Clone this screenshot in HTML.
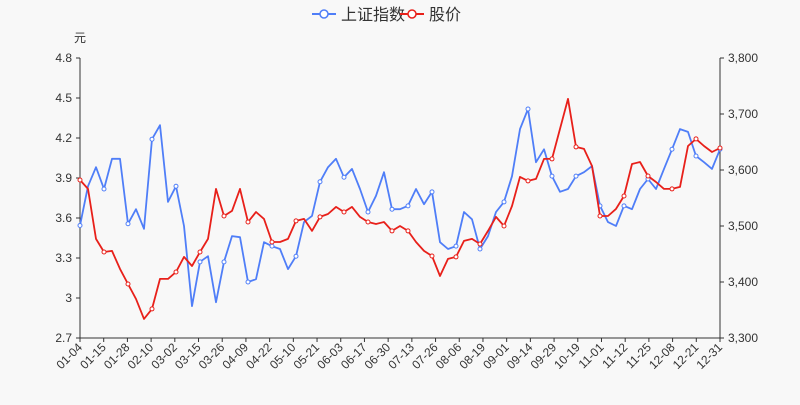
<!DOCTYPE html>
<html><head><meta charset="utf-8"><style>
body{margin:0;background:#f8f8f8;}
svg{font-family:"Liberation Sans","Noto Sans CJK SC",sans-serif;}
</style></head><body>
<svg id="c" width="800" height="400" xmlns="http://www.w3.org/2000/svg">
<rect width="800" height="400" fill="#f8f8f8"/>
<g id="legend">
 <g>
  <line x1="312" y1="14" x2="336" y2="14" stroke="#4f7ef8" stroke-width="2"/>
  <circle cx="324" cy="14" r="4" fill="#fff" stroke="#4f7ef8" stroke-width="1.5"/>
  <text x="341" y="20" font-size="16" fill="#333">上证指数</text>
 </g>
 <g>
  <line x1="400" y1="14" x2="424" y2="14" stroke="#e8201a" stroke-width="2"/>
  <circle cx="412" cy="14" r="4" fill="#fff" stroke="#e8201a" stroke-width="1.5"/>
  <text x="429" y="20" font-size="16" fill="#333">股价</text>
 </g>
</g>
<text x="80" y="42" font-size="12" fill="#333" text-anchor="middle">元</text>
<g id="axes"></g>
<g id="series"></g>
</svg>
<script>
const xLabels=["01-04","01-15","01-28","02-10","03-02","03-15","03-26","04-09","04-22","05-10","05-21","06-03","06-17","06-30","07-13","07-26","08-06","08-19","09-01","09-14","09-29","10-19","11-01","11-12","11-25","12-08","12-21","12-31"];
const leftTicks=[2.7,3,3.3,3.6,3.9,4.2,4.5,4.8];
const rightTicks=[3300,3400,3500,3600,3700,3800];
const indexValues=[3501,3571,3605,3566,3620,3620,3504,3530,3495,3655,3680,3543,3571,3500,3357,3436,3446,3364,3436,3482,3480,3400,3405,3471,3464,3459,3423,3446,3507,3518,3579,3605,3620,3587,3602,3566,3525,3554,3596,3530,
3530,3536,3566,3539,3561,3471,3459,3464,3525,3512,3459,3482,3525,3543,3589,3673,3709,3614,3637,3589,3561,3566,3589,3596,3607,3536,3507,3500,3536,3530,3566,3584,3566,3602,3637,3673,3668,3625,3614,3602,3637];
const priceValues=[3.885,3.818,3.443,3.345,3.353,3.218,3.105,2.993,2.843,2.918,3.143,3.143,3.195,3.308,3.24,3.345,3.443,3.818,3.615,3.653,3.818,3.57,3.645,3.593,3.42,3.42,3.443,3.578,3.593,3.503,3.608,3.63,3.683,3.645,3.683,3.608,3.57,3.555,3.57,3.503,
3.54,3.503,3.42,3.353,3.315,3.165,3.293,3.308,3.428,3.443,3.405,3.503,3.608,3.54,3.69,3.908,3.878,3.893,4.043,4.043,4.268,4.493,4.133,4.118,3.99,3.615,3.615,3.668,3.765,4.005,4.02,3.915,3.87,3.818,3.818,3.833,4.14,4.193,4.14,4.095,4.125];

const X0=80,X1=720,Y0=58,Y1=338,NS="http://www.w3.org/2000/svg";
const n=indexValues.length;
const xi=i=>X0+i*(X1-X0)/(n-1);
const yL=v=>Y1-(v-2.7)/(4.8-2.7)*(Y1-Y0);
const yR=v=>Y1-(v-3300)/(3800-3300)*(Y1-Y0);
function mk(t,a,p){const e=document.createElementNS(NS,t);for(const k in a)e.setAttribute(k,a[k]);(p||document.getElementById('axes')).appendChild(e);return e;}
let e=mk('line',{x1:X0,y1:Y0,x2:X0,y2:Y1,stroke:'#333'});


e=mk('line',{x1:X1,y1:Y0,x2:X1,y2:Y1,stroke:'#333'});


e=mk('line',{x1:X0,y1:Y1,x2:X1,y2:Y1,stroke:'#333'});


leftTicks.forEach(v=>{const y=yL(v);
 mk('line',{x1:X0-4,y1:y,x2:X0,y2:y,stroke:'#333'});
 const t=mk('text',{x:X0-8,y:y+4,'font-size':12,fill:'#333','text-anchor':'end'});t.textContent=String(v);
 
 });
rightTicks.forEach(v=>{const y=yR(v);
 mk('line',{x1:X1,y1:y,x2:X1+4,y2:y,stroke:'#333'});
 const t=mk('text',{x:X1+8,y:y+4,'font-size':12,fill:'#333'});t.textContent=v.toLocaleString('en-US');
 
 });
const lx=k=>X0+k*(X1-X0)/(xLabels.length-1);
xLabels.forEach((s,k)=>{const x=lx(k);
 mk('line',{x1:x,y1:Y1,x2:x,y2:Y1+4,stroke:'#333'});
 const t=mk('text',{x:x+3,y:Y1+10,'font-size':12,fill:'#333','text-anchor':'end',transform:`rotate(-45 ${x+3} ${Y1+10})`});t.textContent=s;
 
 });
const sg=document.getElementById('series');
function series(vals,yf,col,name){
 const d=vals.map((v,i)=>(i?'L':'M')+xi(i).toFixed(1)+' '+yf(v).toFixed(1)).join('');
 const p=mk('path',{d,fill:'none',stroke:col,'stroke-width':1.8,'stroke-linejoin':'round'},sg);
 
 
 xLabels.forEach((s,k)=>{const i=Math.round(k*(n-1)/(xLabels.length-1));
  const c=mk('circle',{cx:xi(i),cy:yf(vals[i]),r:2,fill:'#fff',stroke:col,'stroke-width':1},sg);
  
  });
}
series(indexValues,yR,'#4f7ef8','index');
series(priceValues,yL,'#e8201a','price');
</script>
</body></html>
